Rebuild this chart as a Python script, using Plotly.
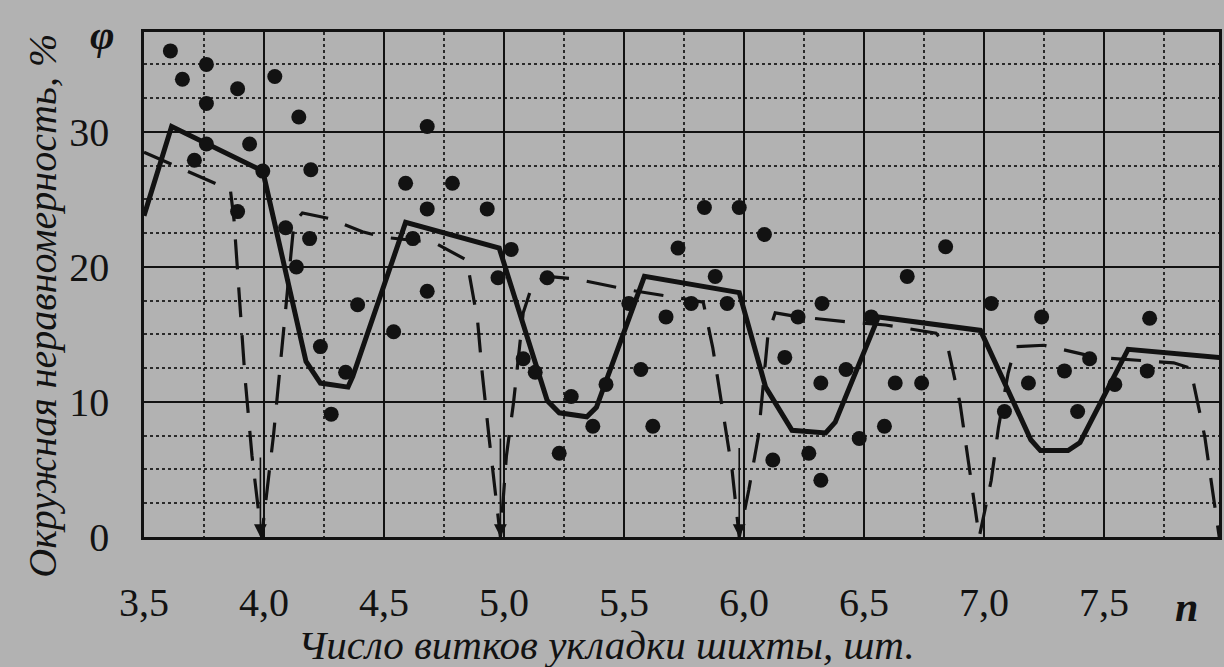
import plotly.graph_objects as go

# ---- data ----
dots_n = [3.61, 3.66, 3.76, 3.76, 3.89, 4.045, 4.145, 3.76, 3.94, 3.71, 3.995, 4.195,
          4.59, 3.89, 4.09, 4.19, 4.135, 4.39, 4.54, 4.62, 4.235, 4.34, 4.28, 4.68,
          4.785, 4.68, 4.93, 5.03, 4.68, 4.975, 5.18, 5.725, 5.835, 5.98, 6.085, 5.88,
          5.52, 5.78, 5.93, 5.675, 6.225, 6.325, 5.08, 5.13, 5.28, 5.37, 5.23, 5.57,
          5.62, 5.425, 6.17, 6.12, 6.27, 6.425, 6.32, 6.32, 6.48, 6.585, 6.63, 6.74,
          7.085, 7.185, 7.335, 7.44, 7.39, 7.545, 7.68, 6.84, 6.68, 6.53, 7.03, 7.24, 7.69]
dots_phi = [36.0, 33.9, 35.0, 32.1, 33.2, 34.1, 31.1, 29.1, 29.1, 27.9, 27.1, 27.2,
            26.2, 24.1, 22.9, 22.1, 20.0, 17.2, 15.2, 22.1, 14.1, 12.2, 9.1, 30.4,
            26.2, 24.3, 24.3, 21.3, 18.2, 19.2, 19.2, 21.4, 24.4, 24.4, 22.4, 19.3,
            17.3, 17.3, 17.3, 16.3, 16.3, 17.3, 13.2, 12.2, 10.4, 8.2, 6.2, 12.4,
            8.2, 11.3, 13.3, 5.7, 6.2, 12.4, 11.4, 4.2, 7.3, 8.2, 11.4, 11.4,
            9.3, 11.4, 12.3, 13.2, 9.3, 11.3, 12.3, 21.5, 19.3, 16.3, 17.3, 16.3, 16.2]

solid_n = [3.5, 3.615, 3.995, 4.175, 4.235, 4.35, 4.37, 4.59, 4.98, 5.18, 5.23, 5.345,
           5.385, 5.585, 5.98, 6.09, 6.2, 6.34, 6.38, 6.56, 6.985, 7.195, 7.235, 7.35,
           7.4, 7.6, 7.98]
solid_phi = [23.8, 30.4, 27.1, 13.0, 11.4, 11.1, 11.9, 23.3, 21.4, 10.1, 9.2, 8.9,
             9.6, 19.3, 18.1, 11.1, 7.9, 7.7, 8.5, 16.3, 15.3, 7.2, 6.4, 6.4,
             7.0, 13.9, 13.3]

dashed_n = [3.5, 3.86, 3.875, 3.92, 3.95, 3.99,
            4.04, 4.085, 4.125, 4.16, 4.27, 4.41, 4.5, 4.71, 4.845, 4.89, 4.91, 4.94, 4.985,
            5.01, 5.04, 5.08, 5.12, 5.18, 5.3, 5.52, 5.76, 5.83, 5.87, 5.91, 5.95, 5.98,
            6.02, 6.06, 6.1, 6.13, 6.23, 6.45, 6.59, 6.8, 6.85, 6.9, 6.95, 6.98,
            7.03, 7.06, 7.1, 7.13, 7.25, 7.47, 7.79, 7.86, 7.92, 7.98]
dashed_phi = [28.5, 25.7, 23.5, 12.0, 6.0, 0.0,
              7.6, 16.2, 23.3, 24.0, 23.6, 22.6, 22.2, 21.8, 20.5, 16.0, 12.0, 7.0, 0.0,
              6.0, 10.0, 16.6, 18.8, 19.3, 19.1, 18.3, 17.6, 17.4, 14.0, 9.4, 5.0, 0.0,
              3.5, 7.5, 15.0, 16.6, 16.3, 15.9, 15.7, 15.1, 14.0, 9.9, 3.7, 0.0,
              4.2, 8.1, 12.1, 14.1, 14.2, 13.3, 12.9, 12.5, 7.4, 0.0]

arrow_n = [3.985, 4.985, 5.98]
arrow_top = [6.0, 7.4, 6.7]

x_tick_vals = [3.5, 4.0, 4.5, 5.0, 5.5, 6.0, 6.5, 7.0, 7.5]
x_tick_text = ["3,5", "4,0", "4,5", "5,0", "5,5", "6,0", "6,5", "7,0", "7,5"]
y_tick_vals = [0, 10, 20, 30]
y_tick_text = ["0", "10", "20", "30"]

# ---- styling ----
INK = "#121212"
PAPER = "#b2b2b2"
SERIF = "Liberation Serif, Times New Roman, serif"

fig = go.Figure()
fig.add_trace(go.Scatter(x=dashed_n, y=dashed_phi, mode="lines",
                         line=dict(color=INK, width=3.2, dash="30px,18px"),
                         showlegend=False, hoverinfo="skip"))
fig.add_trace(go.Scatter(x=solid_n, y=solid_phi, mode="lines",
                         line=dict(color=INK, width=5),
                         showlegend=False, hoverinfo="skip"))
fig.add_trace(go.Scatter(x=dots_n, y=dots_phi, mode="markers",
                         marker=dict(color=INK, size=15, line=dict(width=0)),
                         showlegend=False, hoverinfo="skip"))

for xn, yt in zip(arrow_n, arrow_top):
    fig.add_annotation(x=xn, y=0, ax=xn, ay=yt, xref="x", yref="y",
                       axref="x", ayref="y", text="", showarrow=True,
                       arrowhead=2, arrowsize=1.6, arrowwidth=1.6,
                       arrowcolor=INK, standoff=0, startstandoff=0)

def label(text, x, y, size, angle=0):
    fig.add_annotation(xref="paper", yref="paper", x=x, y=y, text=text,
                       showarrow=False, textangle=angle,
                       xanchor="center", yanchor="middle",
                       font=dict(family=SERIF, size=size, color=INK))

label("<b><i>n</i></b>", 0.970, -0.139, 42)
label("<b><i>φ</i></b>", -0.039, 0.994, 42)
label("<i>Окружная неравномерность, %</i>", -0.0944, 0.457, 40, -90)
label("<i>Число витков укладки шихты, шт.</i>", 0.43, -0.214, 41)

fig.update_layout(
    width=1224, height=667,
    margin=dict(l=144, r=2, t=32, b=130, pad=0),
    paper_bgcolor=PAPER, plot_bgcolor=PAPER,
    font=dict(family=SERIF, color=INK),
    showlegend=False,
)
fig.update_xaxes(
    range=[3.5, 7.979], tickmode="array", tickvals=x_tick_vals, ticktext=x_tick_text,
    ticks="", ticklabelstandoff=28, tickfont=dict(family=SERIF, size=40, color=INK),
    showgrid=True, gridcolor=INK, gridwidth=2,
    showline=True, linecolor=INK, linewidth=2.5, mirror=True, zeroline=False,
    minor=dict(tick0=3.5, dtick=0.25, showgrid=True, gridcolor="#2a2a2a",
               gridwidth=1.5, griddash="dot"),
)
fig.update_yaxes(
    range=[0, 37.4], tickmode="array", tickvals=y_tick_vals, ticktext=y_tick_text,
    ticks="", ticklabelstandoff=24, tickfont=dict(family=SERIF, size=40, color=INK),
    showgrid=True, gridcolor=INK, gridwidth=2,
    showline=True, linecolor=INK, linewidth=2.5, mirror=True, zeroline=False,
    minor=dict(tick0=0, dtick=2.5, showgrid=True, gridcolor="#2a2a2a",
               gridwidth=1.5, griddash="dot"),
)

fig.write_html("out.html", config={"displayModeBar": False},
               post_script="document.body.style.margin='0';")
